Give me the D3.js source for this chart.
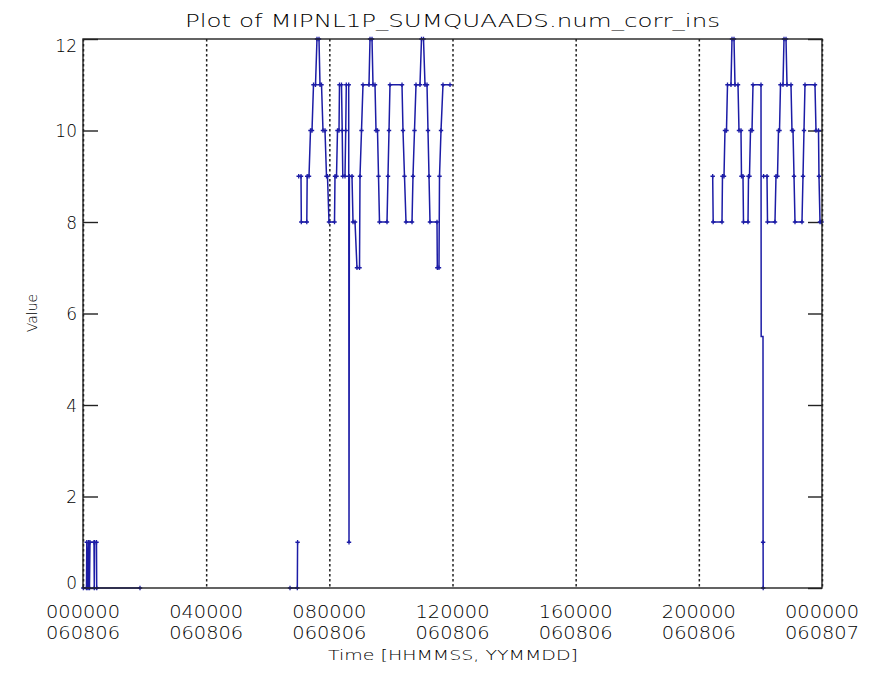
<!DOCTYPE html>
<html>
<head>
<meta charset="utf-8">
<script src="https://cdn.jsdelivr.net/npm/d3@7"></script>
<style>
body { margin: 0; background: #fff; }
text { font-family: 'DejaVu Sans', sans-serif; font-weight: 200; fill: #000; }
</style>
</head>
<body>
<svg width="873" height="685"></svg>
<script>
var yTicks = [0, 2, 4, 6, 8, 10, 12];
var xTickHours = [0, 4, 8, 12, 16, 20, 24];
var xTickTimes = ['000000', '040000', '080000', '120000', '160000', '200000', '000000'];
var xTickDates = ['060806', '060806', '060806', '060806', '060806', '060806', '060807'];

// samples: hours after 000000 060806, and value. one pair of arrays per run (gaps between runs)
var runAHours = [0.010, 0.114, 0.123, 0.162, 0.179, 0.211, 0.227, 0.357, 0.367, 0.377, 0.438, 0.445, 1.851];
var runAValues = [0, 0, 1, 0, 1, 0, 1, 1, 0, 1, 1, 0, 0];

var runBHours = [6.723, 6.960, 6.969];
var runBValues = [0, 0, 1];

var runCHours = [7.005, 7.080, 7.090, 7.268, 7.281, 7.340, 7.388, 7.437, 7.486, 7.551,
                 7.599, 7.664, 7.697, 7.746, 7.794, 7.859, 7.908, 7.940, 7.989, 8.168,
                 8.184, 8.233, 8.265, 8.314, 8.330, 8.395, 8.418, 8.437, 8.509, 8.532,
                 8.551, 8.629, 8.639, 8.652, 8.736, 8.769, 8.834, 8.898, 8.980, 8.996,
                 9.045, 9.093, 9.288, 9.321, 9.386, 9.418, 9.483, 9.516, 9.564, 9.597,
                 9.629, 9.873, 9.905, 9.938, 9.970, 10.360, 10.392, 10.441, 10.490, 10.685,
                 10.717, 10.766, 10.815, 10.944, 10.993, 11.058, 11.107, 11.172, 11.204, 11.237,
                 11.269, 11.497, 11.507, 11.561, 11.578, 11.627, 11.691, 11.919];
var runCValues = [9, 9, 8, 8, 9, 9, 10, 10, 11, 11,
                  12, 12, 11, 11, 10, 10, 9, 9, 8, 8,
                  9, 9, 10, 10, 11, 11, 10, 9, 9, 10,
                  11, 11, 1, 9, 9, 8, 8, 7, 7, 9,
                  10, 11, 11, 12, 12, 11, 11, 10, 10, 9,
                  8, 8, 9, 10, 11, 11, 10, 9, 8, 8,
                  9, 10, 11, 11, 12, 12, 11, 11, 10, 9,
                  8, 8, 7, 7, 9, 10, 11, 11];

var runDHours = [20.450, 20.466, 20.752, 20.768, 20.817, 20.849, 20.898, 20.931, 21.044, 21.077,
                 21.142, 21.174, 21.272, 21.304, 21.369, 21.385, 21.434, 21.450, 21.597, 21.613,
                 21.645, 21.678, 21.727, 21.759, 22.019, 22.025, 22.084, 22.087, 22.090];
var runDValues = [9, 8, 8, 9, 9, 10, 10, 11, 11, 12,
                  12, 11, 11, 10, 10, 9, 9, 8, 8, 9,
                  9, 10, 10, 11, 11, 5.5, 5.5, 1, 0];

var runEHours = [22.103, 22.214, 22.230, 22.473, 22.506, 22.555, 22.587, 22.620, 22.652, 22.733,
                 22.766, 22.831, 22.863, 22.993, 23.025, 23.058, 23.091, 23.123, 23.350, 23.383,
                 23.415, 23.448, 23.772, 23.805, 23.886, 23.902, 23.935, 23.984];
var runEValues = [9, 9, 8, 8, 9, 9, 10, 10, 11, 11,
                  12, 12, 11, 11, 10, 10, 9, 8, 8, 9,
                  10, 11, 11, 10, 10, 9, 8, 8];

var runs = [[runAHours, runAValues], [runBHours, runBValues], [runCHours, runCValues],
            [runDHours, runDValues], [runEHours, runEValues]].map(function (r) {
    return r[0].map(function (t, i) { return { t: t, v: r[1][i] }; });
});

var svg = d3.select('svg');
var margin = { top: 39, right: 51, bottom: 97, left: 83 };
var w = 873 - margin.left - margin.right;
var h = 685 - margin.top - margin.bottom;
var lineColor = '#1c1ca6';

var g = svg.append('g')
    .attr('transform', 'translate(' + margin.left + ',' + margin.top + ')');

var xScale = d3.scaleLinear().domain([0, 24]).range([0, w]);
var yScale = d3.scaleLinear().domain([0, 12]).range([h, 0]);

// dotted time grid
var xAxis = d3.axisBottom(xScale).tickValues(xTickHours).tickSize(h).tickFormat('');
var xg = g.append('g').call(xAxis);
xg.select('.domain').remove();
xg.selectAll('line')
    .attr('stroke', '#222')
    .attr('stroke-width', 1.5)
    .attr('stroke-dasharray', '2.5,2.5');

// two line tick labels
var xLab = g.append('g');
xLab.selectAll('.t1')
    .data(xTickHours)
    .enter()
    .append('text')
    .attr('x', function (d) { return xScale(d); })
    .attr('y', h + 29.5)
    .attr('text-anchor', 'middle')
    .attr('textLength', 74)
    .attr('lengthAdjust', 'spacingAndGlyphs')
    .style('font-size', '17px')
    .text(function (d, i) { return xTickTimes[i]; });
xLab.selectAll('.t2')
    .data(xTickHours)
    .enter()
    .append('text')
    .attr('x', function (d) { return xScale(d); })
    .attr('y', h + 51)
    .attr('text-anchor', 'middle')
    .attr('textLength', 74)
    .attr('lengthAdjust', 'spacingAndGlyphs')
    .style('font-size', '17px')
    .text(function (d, i) { return xTickDates[i]; });

// y axis, ticks pointing inward on both sides
var yAxis = d3.axisLeft(yScale).tickValues(yTicks).tickSize(-15).tickPadding(6);
var yg = g.append('g').call(yAxis);
yg.select('.domain').remove();
yg.selectAll('line').attr('stroke', '#222').attr('stroke-width', 1.4);
yg.selectAll('text')
    .style('font-size', '17px')
    .attr('fill', '#000')
    .attr('dy', function (d) {
        if (d === 12) return '0.73em';
        if (d === 0) return '0em';
        return '0.36em';
    });

var yAxisR = d3.axisRight(yScale).tickValues(yTicks).tickSize(-14).tickFormat('');
var ygr = g.append('g').attr('transform', 'translate(' + w + ',0)').call(yAxisR);
ygr.select('.domain').remove();
ygr.selectAll('line').attr('stroke', '#222').attr('stroke-width', 1.4);

// data
var line = d3.line()
    .x(function (d) { return xScale(d.t); })
    .y(function (d) { return yScale(d.v); });

g.selectAll('.run')
    .data(runs)
    .enter()
    .append('path')
    .attr('class', 'run')
    .attr('d', line)
    .attr('fill', 'none')
    .attr('stroke', lineColor)
    .attr('stroke-width', 1.5);

// plus sign on each whole-number sample
var pts = [].concat.apply([], runs).filter(function (d) { return d.v % 1 === 0; });
g.append('path')
    .attr('d', pts.map(function (d) {
        var px = xScale(d.t), py = yScale(d.v);
        return 'M' + (px - 2.2) + ',' + py + 'h4.4M' + px + ',' + (py - 2.2) + 'v4.4';
    }).join(''))
    .attr('fill', 'none')
    .attr('stroke', lineColor)
    .attr('stroke-width', 1.3);

// frame
g.append('rect')
    .attr('x', 0)
    .attr('y', 0)
    .attr('width', w)
    .attr('height', h)
    .attr('fill', 'none')
    .attr('stroke', '#222')
    .attr('stroke-width', 1.4);

// titles
svg.append('text')
    .attr('x', 452.5)
    .attr('y', 27)
    .attr('text-anchor', 'middle')
    .attr('textLength', 535)
    .attr('lengthAdjust', 'spacingAndGlyphs')
    .style('font-size', '18px')
    .text('Plot of MIPNL1P_SUMQUAADS.num_corr_ins');

svg.append('text')
    .attr('x', 453)
    .attr('y', 660)
    .attr('text-anchor', 'middle')
    .attr('textLength', 250)
    .attr('lengthAdjust', 'spacingAndGlyphs')
    .style('font-size', '14px')
    .text('Time [HHMMSS, YYMMDD]');

svg.append('text')
    .attr('transform', 'translate(37,313) rotate(-90)')
    .attr('text-anchor', 'middle')
    .style('font-size', '14px')
    .text('Value');
</script>
</body>
</html>
